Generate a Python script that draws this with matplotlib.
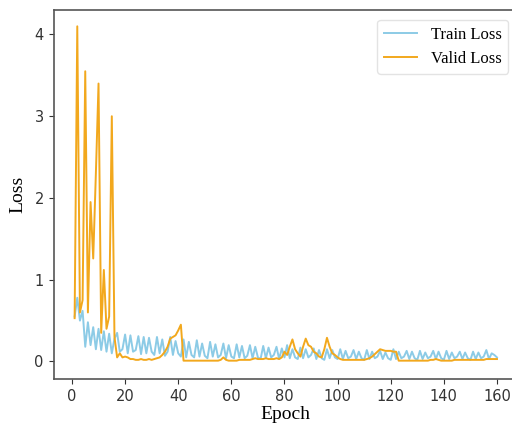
import matplotlib
matplotlib.use("Agg")
import matplotlib.pyplot as plt

epochs = list(range(1, 161))

train_loss = [
    0.55, 0.78, 0.50, 0.62, 0.18, 0.48, 0.20, 0.42, 0.15, 0.40,
    0.14, 0.37, 0.12, 0.34, 0.10, 0.28, 0.35, 0.12, 0.15, 0.33,
    0.10, 0.32, 0.12, 0.14, 0.31, 0.09, 0.30, 0.10, 0.29, 0.12,
    0.08, 0.30, 0.10, 0.27, 0.07, 0.12, 0.30, 0.08, 0.25, 0.10,
    0.06, 0.27, 0.05, 0.24, 0.08, 0.05, 0.26, 0.06, 0.22, 0.07,
    0.04, 0.24, 0.06, 0.21, 0.05, 0.08, 0.22, 0.04, 0.20, 0.06,
    0.04, 0.21, 0.05, 0.19, 0.04, 0.07, 0.20, 0.04, 0.18, 0.05,
    0.03, 0.19, 0.04, 0.17, 0.05, 0.08, 0.18, 0.03, 0.16, 0.05,
    0.20, 0.04, 0.15, 0.05, 0.03, 0.17, 0.04, 0.15, 0.05, 0.08,
    0.16, 0.03, 0.14, 0.04, 0.02, 0.15, 0.04, 0.14, 0.05, 0.03,
    0.15, 0.03, 0.13, 0.04, 0.06, 0.14, 0.03, 0.12, 0.04, 0.02,
    0.14, 0.03, 0.12, 0.04, 0.06, 0.13, 0.03, 0.11, 0.04, 0.02,
    0.15, 0.03, 0.12, 0.04, 0.06, 0.13, 0.03, 0.12, 0.04, 0.02,
    0.13, 0.03, 0.11, 0.04, 0.06, 0.13, 0.03, 0.12, 0.04, 0.02,
    0.13, 0.03, 0.11, 0.04, 0.06, 0.12, 0.03, 0.11, 0.04, 0.02,
    0.12, 0.03, 0.11, 0.04, 0.06, 0.14, 0.03, 0.10, 0.08, 0.05,
]

valid_loss = [
    0.53, 4.10, 0.60, 0.75, 3.55, 0.60, 1.95, 1.26, 2.30, 3.40,
    0.35, 1.12, 0.40, 0.55, 3.00, 0.30, 0.05, 0.10, 0.05, 0.06,
    0.05, 0.03, 0.03, 0.02, 0.02, 0.03, 0.02, 0.02, 0.03, 0.02,
    0.03, 0.04, 0.05, 0.08, 0.12, 0.18, 0.28, 0.30, 0.32, 0.38,
    0.45, 0.01, 0.01, 0.01, 0.01, 0.01, 0.01, 0.01, 0.01, 0.01,
    0.01, 0.01, 0.01, 0.01, 0.01, 0.02, 0.05, 0.02, 0.01, 0.01,
    0.01, 0.01, 0.02, 0.02, 0.02, 0.02, 0.02, 0.03, 0.04, 0.03,
    0.03, 0.03, 0.04, 0.03, 0.03, 0.03, 0.04, 0.03, 0.05, 0.12,
    0.08, 0.18, 0.27, 0.15, 0.10, 0.06, 0.18, 0.28, 0.20, 0.18,
    0.12, 0.10, 0.06, 0.05, 0.15, 0.29, 0.18, 0.10, 0.08, 0.05,
    0.03, 0.02, 0.02, 0.02, 0.02, 0.02, 0.02, 0.02, 0.02, 0.02,
    0.03, 0.04, 0.06, 0.09, 0.12, 0.15, 0.14, 0.13, 0.13, 0.13,
    0.12, 0.12, 0.01, 0.01, 0.01, 0.01, 0.01, 0.01, 0.01, 0.01,
    0.01, 0.01, 0.01, 0.01, 0.02, 0.02, 0.03, 0.02, 0.01, 0.01,
    0.01, 0.01, 0.01, 0.02, 0.02, 0.02, 0.02, 0.02, 0.02, 0.02,
    0.02, 0.02, 0.02, 0.02, 0.02, 0.03, 0.03, 0.03, 0.03, 0.03,
]

x_ticks = [0, 20, 40, 60, 80, 100, 120, 140, 160]
y_ticks = [0, 1, 2, 3, 4]

fig = plt.figure(figsize=(5.12, 4.24), dpi=100)
ax = fig.add_axes([0.1045, 0.105, 0.9074, 0.8715])

ax.plot(epochs, train_loss, color="#8ccbe6", lw=1.4, label="Train Loss")
ax.plot(epochs, valid_loss, color="#f2a81d", lw=1.4, label="Valid Loss")

ax.set_xticks(x_ticks)
ax.set_yticks(y_ticks)
ax.set_ylim(-0.22, 4.30)
ax.tick_params(labelsize=10.5, colors="#333333", length=3.5)
for s in ax.spines.values():
    s.set_color("#555555")
    s.set_linewidth(1.2)
ax.spines["right"].set_visible(False)

serif = ["Liberation Serif", "DejaVu Serif"]
ax.set_xlabel("Epoch", family=serif, fontsize=14, labelpad=1)
ax.set_ylabel("Loss", family=serif, fontsize=14, labelpad=6)

leg = ax.legend(loc="upper right", prop={"family": serif, "size": 12},
                frameon=True, fancybox=True, borderaxespad=0.6)
leg.get_frame().set_edgecolor("#dddddd")

fig.savefig("out.png", dpi=100)
